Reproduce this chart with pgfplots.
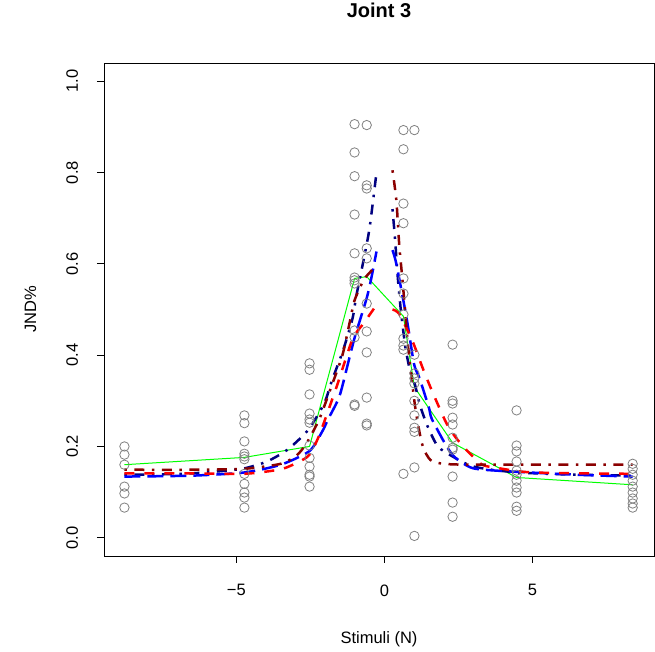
\documentclass[border=0pt]{standalone}
\usepackage{pgfplots}
\pgfplotsset{compat=1.18}
\usepackage{fontspec}
\setmainfont{Liberation Sans}
\definecolor{rnavy}{RGB}{0,0,128}
\definecolor{rblue}{RGB}{0,0,255}
\definecolor{rred}{RGB}{255,0,0}
\definecolor{rdarkred}{RGB}{139,0,0}
\definecolor{rgreen}{RGB}{0,255,0}
\definecolor{rgray}{RGB}{128,128,128}
\begin{document}
\begin{tikzpicture}
\begin{axis}[
  name=ax,
  scale only axis, width=550pt, height=493pt,
  xmin=-9.47, xmax=9.10, ymin=-0.04, ymax=1.04,
  axis line style={black, line width=0.8pt},
  tick pos=left, tick align=outside, major tick length=7pt,
  tick style={black, line width=0.8pt},
  xtick={-5,0,5}, xticklabels={−5,0,5},
  ytick={0,0.2,0.4,0.6,0.8,1.0}, yticklabels={0.0,0.2,0.4,0.6,0.8,1.0},
  tick label style={font=\fontsize{16.5}{19}\selectfont},
  yticklabel style={rotate=90, anchor=base},
  yticklabel shift=19pt,
  xticklabel shift=18pt,
  title={Joint 3},
  title style={at={(axis description cs:0.5,1.0791)}, anchor=base, font=\fontsize{20}{23}\selectfont\bfseries},
  xlabel={Stimuli (N)},
  xlabel style={at={(axis description cs:0.5,-0.1765)}, anchor=base, font=\fontsize{16.5}{19}\selectfont},
  ylabel={JND\%},
  ylabel style={at={(axis description cs:-0.1236,0.5)}, anchor=base, font=\fontsize{16.5}{19}\selectfont},
  clip=true,
]
% data points
\addplot[only marks, mark=o, mark size=4.7pt, mark options={rgray, line width=0.8pt}] table {
x y
-8.78 0.200
-8.78 0.182
-8.78 0.160
-8.78 0.112
-8.78 0.097
-8.78 0.066
-4.73 0.268
-4.73 0.251
-4.73 0.211
-4.73 0.184
-4.73 0.178
-4.73 0.172
-4.73 0.140
-4.73 0.118
-4.73 0.099
-4.73 0.088
-4.73 0.066
-2.53 0.382
-2.53 0.368
-2.53 0.314
-2.53 0.272
-2.53 0.259
-2.53 0.252
-2.53 0.202
-2.53 0.175
-2.53 0.156
-2.53 0.138
-2.53 0.134
-2.53 0.112
-1.01 0.906
-1.01 0.844
-1.01 0.792
-1.01 0.708
-1.01 0.623
-1.01 0.570
-1.01 0.564
-1.01 0.557
-1.01 0.454
-1.01 0.439
-1.01 0.292
-1.01 0.289
-0.60 0.904
-0.60 0.772
-0.60 0.765
-0.60 0.634
-0.60 0.612
-0.60 0.513
-0.60 0.452
-0.60 0.406
-0.60 0.307
-0.60 0.250
-0.60 0.246
0.64 0.893
0.64 0.851
0.64 0.732
0.64 0.689
0.64 0.568
0.64 0.535
0.64 0.489
0.64 0.436
0.64 0.421
0.64 0.412
0.64 0.140
1.01 0.893
1.01 0.401
1.01 0.360
1.01 0.349
1.01 0.338
1.01 0.300
1.01 0.268
1.01 0.241
1.01 0.232
1.01 0.154
1.01 0.004
2.30 0.423
2.30 0.300
2.30 0.294
2.30 0.263
2.30 0.248
2.30 0.219
2.30 0.197
2.30 0.193
2.30 0.134
2.30 0.077
2.30 0.046
4.46 0.279
4.46 0.202
4.46 0.189
4.46 0.167
4.46 0.147
4.46 0.138
4.46 0.125
4.46 0.110
4.46 0.099
4.46 0.068
4.46 0.059
8.38 0.162
8.38 0.151
8.38 0.138
8.38 0.125
8.38 0.112
8.38 0.099
8.38 0.086
8.38 0.075
8.38 0.066
};
% green mean line
\addplot[rgreen, line width=1pt] table {
x y
-8.78 0.160
-4.73 0.176
-2.53 0.200
-1.01 0.568
-0.60 0.572
0.64 0.485
1.01 0.330
2.30 0.208
4.46 0.132
8.38 0.116
};
% navy dot-dash
\addplot[rnavy, line width=2.5pt, smooth, tension=0.4, dash pattern=on 2.5pt off 7.5pt on 10pt off 7.5pt] table {
x y
-8.78 0.138
-7.5 0.139
-6.5 0.141
-5.5 0.146
-4.73 0.152
-4.0 0.166
-3.38 0.188
-2.97 0.210
-2.53 0.240
-2.03 0.295
-1.77 0.345
-1.4 0.41
-1.08 0.48
-0.95 0.53
-0.7 0.61
-0.5 0.68
-0.27 0.80
};
\addplot[rnavy, line width=2.5pt, smooth, tension=0.4, dash pattern=on 2.5pt off 7.5pt on 10pt off 7.5pt] table {
x y
0.27 0.72
0.35 0.66
0.45 0.57
0.55 0.50
0.7 0.42
0.85 0.37
1.03 0.335
1.2 0.29
1.45 0.245
1.8 0.200
2.3 0.178
2.9 0.158
3.5 0.150
4.5 0.143
6.0 0.139
8.38 0.136
};
% blue long dash
\addplot[rblue, line width=2.5pt, smooth, tension=0.4, dash pattern=on 16pt off 7pt] table {
x y
-8.78 0.134
-6.5 0.136
-4.73 0.143
-3.5 0.160
-2.53 0.190
-2.1 0.233
-1.9 0.26
-1.52 0.31
-1.2 0.39
-1.0 0.44
-0.6 0.525
-0.44 0.57
-0.27 0.627
};
\addplot[rblue, line width=2.5pt, smooth, tension=0.4, dash pattern=on 16pt off 7pt] table {
x y
0.27 0.63
0.4 0.60
0.75 0.48
1.0 0.38
1.18 0.35
1.5 0.285
1.6 0.26
2.1 0.20
2.4 0.175
3.0 0.152
4.3 0.145
6.5 0.138
8.38 0.134
};
% red dashed
\addplot[rred, line width=2.5pt, smooth, tension=0.4, dash pattern=on 10pt off 10pt] table {
x y
-8.78 0.141
-6.5 0.141
-4.73 0.140
-3.5 0.150
-2.87 0.167
-2.53 0.182
-2.2 0.225
-1.62 0.33
-1.08 0.435
-0.7 0.47
-0.27 0.51
};
\addplot[rred, line width=2.5pt, smooth, tension=0.4, dash pattern=on 10pt off 10pt] table {
x y
0.27 0.50
0.5 0.49
0.95 0.43
1.3 0.37
1.55 0.33
1.85 0.285
2.1 0.25
2.4 0.22
2.8 0.19
3.3 0.16
3.8 0.153
5.0 0.143
8.38 0.140
};
% darkred dot-dash
\addplot[rdarkred, line width=2.5pt, smooth, tension=0.4, dash pattern=on 2.5pt off 7.5pt on 10pt off 7.5pt] table {
x y
-8.78 0.149
-6.5 0.149
-4.73 0.151
-3.5 0.162
-2.97 0.180
-2.63 0.207
-2.2 0.26
-1.8 0.33
-1.42 0.40
-1.18 0.47
-1.01 0.52
-0.7 0.565
-0.44 0.585
-0.27 0.600
};
\addplot[rdarkred, line width=2.5pt, smooth, tension=0.4, dash pattern=on 2.5pt off 7.5pt on 10pt off 7.5pt] table {
x y
0.27 0.805
0.4 0.74
0.5 0.64
0.6 0.57
0.68 0.51
0.78 0.43
0.88 0.37
1.05 0.28
1.25 0.21
1.42 0.182
1.6 0.168
2.0 0.162
3.0 0.160
8.38 0.160
};
\end{axis}
\path ([xshift=-104pt,yshift=-96pt]ax.south west) rectangle ([xshift=1pt,yshift=63pt]ax.north east);
\end{tikzpicture}
\end{document}
